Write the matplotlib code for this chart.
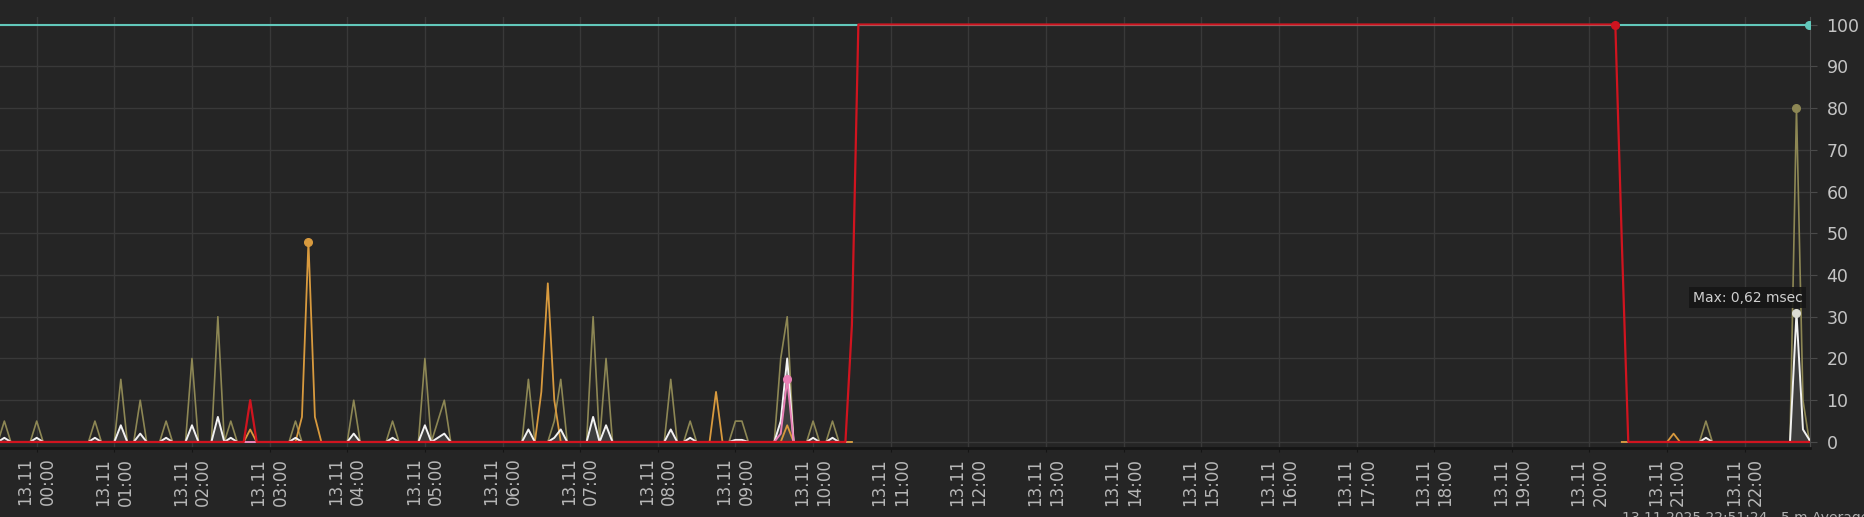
import numpy as np
import matplotlib.pyplot as plt

# 5 minute averages, 12.11 23:30 .. 13.11 22:50
olive_times = ["23:35", "00:00", "00:45", "01:05", "01:20", "01:40", "02:00", "02:20",
               "02:30", "03:20", "04:05", "04:35", "05:00", "05:10", "05:15", "06:20",
               "06:40", "06:45", "07:10", "07:20", "08:10", "08:25", "09:00", "09:05",
               "09:35", "09:40", "10:00", "10:15", "21:30", "22:40", "22:45"]
olive_vals = [5, 5, 5, 15, 10, 5, 20, 30, 5, 5, 10, 5, 20, 5, 10, 15,
              5, 15, 30, 20, 15, 5, 5, 5, 20, 30, 5, 5, 5, 80, 10]

white_times = ["23:35", "00:00", "00:45", "01:05", "01:20", "01:40", "02:00", "02:20",
               "02:30", "03:20", "04:05", "04:35", "05:00", "05:10", "05:15", "06:20",
               "06:40", "06:45", "07:10", "07:20", "08:10", "08:25", "09:00", "09:05",
               "09:35", "09:40", "10:00", "10:15", "21:30", "22:40", "22:45", "22:50"]
white_vals = [1, 1, 1, 4, 2, 1, 4, 6, 1, 1, 2, 1, 4, 1, 2, 3,
              1, 3, 6, 4, 3, 1, 0.5, 0.5, 5, 20, 1, 1, 1, 31, 3, 0.5]

orange_times = ["02:45", "03:25", "03:30", "03:35", "06:30", "06:35", "06:40", "08:45", "09:40", "21:05"]
orange_vals = [3, 6, 48, 6, 12, 38, 10, 12, 4, 2]

pink_times = ["09:35", "09:40"]
pink_vals = [2, 15]

red_times = ["02:45", "10:30", "20:25"]
red_vals = [10, 28, 48]
red_high = ("10:35", "20:20")   # red sits at 100 in between
red_high_val = 100
cyan_val = 100

gap = ("10:35", "20:20")        # no data for the small series
white_gap = ("10:30", "20:25")

hour_labels = ["%02d:00" % h for h in range(23)]
y_ticks = list(range(0, 101, 10))


def to_h(s):
    hh, mm = s.split(":")
    h = int(hh) + int(mm) / 60
    return h - 24 if int(hh) == 23 else h


t = np.arange(281) / 12 - 0.5


def idx(s):
    return int(round((to_h(s) + 0.5) * 12))


def series(times, vals, g=gap):
    y = np.zeros(len(t))
    for s, v in zip(times, vals):
        y[idx(s)] = v
    if g:
        y[idx(g[0]):idx(g[1]) + 1] = np.nan
    return y


olive = series(olive_times, olive_vals)
white = series(white_times, white_vals, white_gap)
orange = series(orange_times, orange_vals)
pink = series(pink_times, pink_vals, white_gap)
red = series(red_times, red_vals, None)
red[idx(red_high[0]):idx(red_high[1]) + 1] = red_high_val
cyan = np.full(len(t), cyan_val, dtype=float)

bg = "#252525"
fig = plt.figure(figsize=(18.64, 5.17), dpi=100, facecolor=bg)
ax = fig.add_axes([0, 0.1335, 0.971, 0.8336], facecolor=bg)

ax.plot(t, cyan, color="#62c8bb", lw=1.5, zorder=2)
ax.fill_between(t, 0, white, color="#3d3d3d", lw=0, zorder=2.5)
ax.plot(t, olive, color="#8d8754", lw=1.2, zorder=3)
ax.plot(t, orange, color="#d89a3e", lw=1.3, zorder=4)
ax.plot(t, white, color="#f2f2f2", lw=1.4, zorder=5)
ax.plot(t, pink, color="#e97fb6", lw=1.4, zorder=6)
ax.plot(t, red, color="#d0141f", lw=1.6, zorder=7)

# max markers
ax.plot(t[idx("03:30")], orange[idx("03:30")], "o", color="#d89a3e", ms=5.5, zorder=9)
ax.plot(t[idx("09:40")], pink[idx("09:40")], "o", color="#e97fb6", ms=5.5, zorder=9)
ax.plot(t[idx("22:40")], olive[idx("22:40")], "o", color="#8d8754", ms=5.5, zorder=9)
ax.plot(t[idx("22:40")], white[idx("22:40")], "o", color="#dcdcd4", ms=5.5, zorder=9)
ax.plot(t[idx("20:20")], red[idx("20:20")], "o", color="#d0141f", ms=5.5, zorder=9)
ax.plot(t[-1], cyan[-1], "o", color="#62c8bb", ms=5.5, zorder=9)

ax.text(21.33, 34.5, "Max: 0,62 msec", color="#cfcfcf", fontsize=10, ha="left", va="center",
        zorder=8, bbox=dict(boxstyle="square,pad=0.25", facecolor="#161616", edgecolor="none", alpha=0.9))

ax.set_xlim(-0.4727, 22.84)
ax.set_ylim(-1.44, 101.8)

ax.set_xticks(range(23))
ax.set_xticklabels(["13.11\n" + s for s in hour_labels], rotation=90, fontsize=12,
                   color="#b8b8b8", linespacing=1.3)
ax.yaxis.tick_right()
ax.set_yticks(y_ticks)
ax.set_yticklabels([str(v) for v in y_ticks], fontsize=12.5, color="#c4c4c4")
ax.tick_params(axis="x", length=3, color="#151515", pad=4)
ax.tick_params(axis="y", length=5, color="#4a4a4a", pad=7)

ax.grid(True, color="#393939", lw=1)
ax.set_axisbelow(True)
for side in ["left", "top"]:
    ax.spines[side].set_visible(False)
ax.spines["right"].set_color("#4a4a4a")
ax.spines["bottom"].set_color("#151515")
ax.spines["bottom"].set_linewidth(2)

# status line, cut by the lower edge as in the screenshot
fig.text(1622 / 1864, 6 / 517, "13.11.2025 22:51:24 - 5 m Average - IPs", color="#b0b0b0",
         fontsize=10, ha="left", va="top")

fig.savefig("out.png", dpi=100, facecolor=bg)
